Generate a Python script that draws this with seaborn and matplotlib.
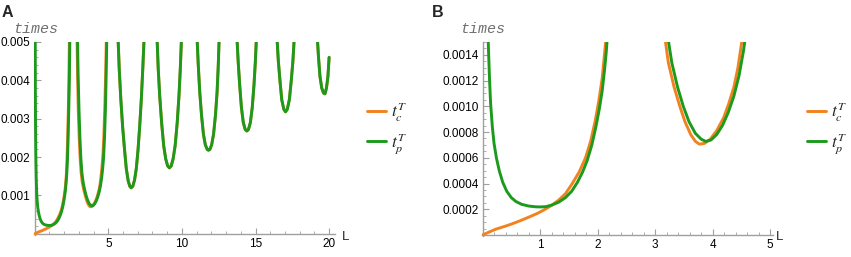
import matplotlib
matplotlib.use("Agg")
import matplotlib.pyplot as plt
from matplotlib.ticker import MultipleLocator, FixedLocator, FormatStrFormatter
import pandas as pd
import seaborn as sns

# values: L and times for each branch between the asymptotes
# branch 1
tc_L_1 = [0.0, 0.10, 0.23, 0.40, 0.51, 0.65, 0.80, 0.95, 1.09, 1.20, 1.32, 1.44, 1.56, 1.68,
          1.79, 1.88, 1.96, 2.02, 2.08, 2.11, 2.14, 2.18, 2.23, 2.28, 2.32, 2.36]
tc_T_1 = [0.0, 0.000020, 0.000045, 0.000069, 0.000086, 0.00011, 0.000138, 0.000167, 0.0002,
          0.00023, 0.00027, 0.00032, 0.00040, 0.00049, 0.00060, 0.00073, 0.00089, 0.00104,
          0.00122, 0.00136, 0.0015, 0.0018, 0.0024, 0.0032, 0.0040, 0.0052]
tp_L_1 = [0.03, 0.04, 0.055, 0.07, 0.085, 0.10, 0.12, 0.14, 0.17, 0.20, 0.24, 0.29, 0.35, 0.42,
          0.50, 0.58, 0.68, 0.80, 0.92, 1.00, 1.10, 1.20, 1.32, 1.44, 1.55, 1.65, 1.74, 1.82,
          1.90, 1.97, 2.03, 2.08, 2.12, 2.15, 2.18, 2.22, 2.26, 2.31, 2.35, 2.39]
tp_T_1 = [0.0052, 0.0038, 0.0028, 0.0022, 0.0018, 0.00148, 0.00122, 0.00102, 0.00084, 0.00071,
          0.00060, 0.00050, 0.00041, 0.00034, 0.00029, 0.00026, 0.000238, 0.000225, 0.000219,
          0.000218, 0.00022, 0.000232, 0.000254, 0.00029, 0.00034, 0.00041, 0.00049, 0.00058,
          0.00070, 0.00084, 0.00098, 0.00112, 0.00128, 0.00142, 0.0016, 0.0019, 0.0024, 0.0032,
          0.0040, 0.0052]

# branch 2
tc_L_2 = [2.87, 2.91, 2.96, 3.02, 3.08, 3.15, 3.23, 3.33, 3.43, 3.52, 3.62, 3.70, 3.77, 3.86,
          3.96, 4.07, 4.19, 4.28, 4.37, 4.44, 4.50, 4.57, 4.64, 4.70, 4.76, 4.82, 4.87]
tc_T_2 = [0.0052, 0.0041, 0.0032, 0.0025, 0.0020, 0.0016, 0.00134, 0.00115, 0.00100, 0.00088,
          0.00078, 0.000728, 0.000706, 0.000712, 0.000745, 0.00081, 0.00091, 0.00102, 0.00115,
          0.00130, 0.00148, 0.00175, 0.0021, 0.0026, 0.0033, 0.0042, 0.0052]
tp_L_2 = [2.90, 2.95, 3.01, 3.07, 3.13, 3.20, 3.29, 3.39, 3.49, 3.59, 3.70, 3.80, 3.88, 3.97,
          4.07, 4.17, 4.27, 4.37, 4.46, 4.54, 4.61, 4.68, 4.74, 4.80, 4.85, 4.90]
tp_T_2 = [0.0052, 0.0041, 0.0032, 0.0025, 0.0020, 0.0016, 0.00134, 0.00115, 0.00100, 0.00088,
          0.00079, 0.000745, 0.000727, 0.000738, 0.00078, 0.00085, 0.00095, 0.00108, 0.00124,
          0.00144, 0.00168, 0.0020, 0.0025, 0.0032, 0.0041, 0.0052]

# branches 3..8: both curves lie on top of each other at this scale
br_L_3 = [5.66, 5.74, 5.85, 5.97, 6.10, 6.22, 6.35, 6.46, 6.55, 6.66, 6.78, 6.90, 7.02, 7.13,
          7.24, 7.34, 7.43]
br_T_3 = [0.0051, 0.0043, 0.0035, 0.0028, 0.0022, 0.0017, 0.00138, 0.00124, 0.00120, 0.00124,
          0.0014, 0.0017, 0.0022, 0.0028, 0.0035, 0.0043, 0.0051]
br_L_4 = [8.31, 8.39, 8.49, 8.62, 8.76, 8.90, 9.03, 9.15, 9.27, 9.40, 9.54, 9.68, 9.80, 9.89,
          9.97]
br_T_4 = [0.0051, 0.0043, 0.0036, 0.0029, 0.0023, 0.00195, 0.00177, 0.00172, 0.00177, 0.00195,
          0.0023, 0.0029, 0.0036, 0.0043, 0.0051]
br_L_5 = [11.03, 11.11, 11.21, 11.33, 11.46, 11.59, 11.72, 11.80, 11.90, 12.02, 12.15, 12.28,
          12.39, 12.47, 12.53]
br_T_5 = [0.0051, 0.0044, 0.0037, 0.0031, 0.0026, 0.00232, 0.0022, 0.00218, 0.0022, 0.00232,
          0.0026, 0.0031, 0.0037, 0.0044, 0.0051]
br_L_6 = [13.74, 13.82, 13.92, 14.04, 14.17, 14.30, 14.41, 14.52, 14.65, 14.78, 14.90, 14.99,
          15.06]
br_T_6 = [0.0051, 0.0045, 0.0039, 0.0033, 0.0029, 0.00272, 0.00268, 0.00272, 0.0029, 0.0033,
          0.0039, 0.0045, 0.0051]
br_L_7 = [16.46, 16.55, 16.66, 16.78, 16.92, 17.04, 17.16, 17.30, 17.43, 17.54, 17.63]
br_T_7 = [0.0051, 0.0045, 0.0040, 0.0035, 0.00325, 0.00318, 0.00325, 0.0035, 0.0040, 0.0045,
          0.0051]
br_L_8 = [19.20, 19.28, 19.38, 19.50, 19.62, 19.72, 19.82, 19.92, 20.00]
br_T_8 = [0.0051, 0.0046, 0.0041, 0.0038, 0.00367, 0.00365, 0.0038, 0.0041, 0.0046]

TC = r"$t_c^T$"
TP = r"$t_p^T$"
palette = {TC: "#f28220", TP: "#1c9a1c"}


def branch(L, t, series, name):
    return pd.DataFrame({"L": L, "times": t, "series": series, "branch": name})


frames = [branch(tc_L_1, tc_T_1, TC, 1), branch(tp_L_1, tp_T_1, TP, 1),
          branch(tc_L_2, tc_T_2, TC, 2), branch(tp_L_2, tp_T_2, TP, 2)]
for i, (L, t) in enumerate([(br_L_3, br_T_3), (br_L_4, br_T_4), (br_L_5, br_T_5),
                            (br_L_6, br_T_6), (br_L_7, br_T_7), (br_L_8, br_T_8)], start=3):
    frames.append(branch(L, t, TC, i))
    frames.append(branch(L, t, TP, i))
df = pd.concat(frames, ignore_index=True)

sns.set_theme(style="white")
plt.rcParams["font.family"] = ["Liberation Sans", "DejaVu Sans"]
plt.rcParams["mathtext.fontset"] = "stix"

W, H = 851, 257
fig = plt.figure(figsize=(W / 100, H / 100), dpi=100)


def px_axes(x0, x1, y0, y1):
    # pixel box (left, right, bottom, top) -> figure fraction
    return fig.add_axes([x0 / W, 1 - y0 / H, (x1 - x0) / W, (y0 - y1) / H])


def style_axes(ax, xlim, ylim):
    ax.set_xlim(*xlim)
    ax.set_ylim(*ylim)
    for s in ["top", "right"]:
        ax.spines[s].set_visible(False)
    for s in ["left", "bottom"]:
        ax.spines[s].set_color("#a0a0a0")
        ax.spines[s].set_linewidth(1.0)
        ax.spines[s].set_zorder(1)
    ax.spines["left"].set_position(("data", 0))
    ax.spines["bottom"].set_position(("data", 0))
    ax.tick_params(which="both", direction="in", color="#a0a0a0", labelsize=8.5,
                   labelcolor="black", left=True, bottom=True)
    ax.tick_params(which="major", length=4, width=0.8, pad=3)
    ax.tick_params(which="minor", length=2, width=0.6)
    ax.set_xlabel("")
    ax.set_ylabel("")
    ax.patch.set_alpha(0)


def draw(ax):
    sns.lineplot(data=df, x="L", y="times", hue="series", units="branch", estimator=None,
                 sort=False, palette=palette, hue_order=[TC, TP], linewidth=2.1, ax=ax,
                 zorder=3)


# panel A
axA = px_axes(34, 335, 235, 42)
draw(axA)
style_axes(axA, (-0.05, 20.4), (-0.00003, 0.005))
axA.xaxis.set_major_locator(FixedLocator([5, 10, 15, 20]))
axA.xaxis.set_minor_locator(MultipleLocator(1))
axA.yaxis.set_major_locator(FixedLocator([0.001, 0.002, 0.003, 0.004, 0.005]))
axA.yaxis.set_minor_locator(MultipleLocator(0.0002))
axA.yaxis.set_major_formatter(FormatStrFormatter("%.3f"))

# panel B
axB = px_axes(482, 773, 236, 42)
draw(axB)
style_axes(axB, (-0.01, 5.05), (-0.000008, 0.0015))
axB.xaxis.set_major_locator(FixedLocator([1, 2, 3, 4, 5]))
axB.xaxis.set_minor_locator(MultipleLocator(0.2))
axB.yaxis.set_major_locator(FixedLocator([0.0002, 0.0004, 0.0006, 0.0008, 0.0010, 0.0012,
                                          0.0014]))
axB.yaxis.set_minor_locator(MultipleLocator(0.00005))
axB.yaxis.set_major_formatter(FormatStrFormatter("%.4f"))

for ax, lx in [(axA, 367), (axB, 807)]:
    handles, labels = ax.get_legend_handles_labels()
    ax.legend(handles, labels, loc="upper left", bbox_to_anchor=(lx / W, 1 - 100 / H),
              bbox_transform=fig.transFigure, frameon=False, fontsize=12.5,
              handlelength=1.1, handletextpad=0.3, labelspacing=0.45, borderpad=0,
              borderaxespad=0)

# panel letters, axis names
for x, letter in [(2, "A"), (432, "B")]:
    fig.text(x / W, 1 - 17 / H, letter, fontsize=11.5, fontweight="bold", va="baseline")
for x in [13, 460]:
    fig.text(x / W, 1 - 33 / H, "times", family="Liberation Mono", style="italic",
             color="#707070", fontsize=10.8, va="baseline")
for x in [342, 776]:
    fig.text(x / W, 1 - 240 / H, "L", fontsize=9.5, va="baseline")

fig.savefig("out.png", dpi=100)
